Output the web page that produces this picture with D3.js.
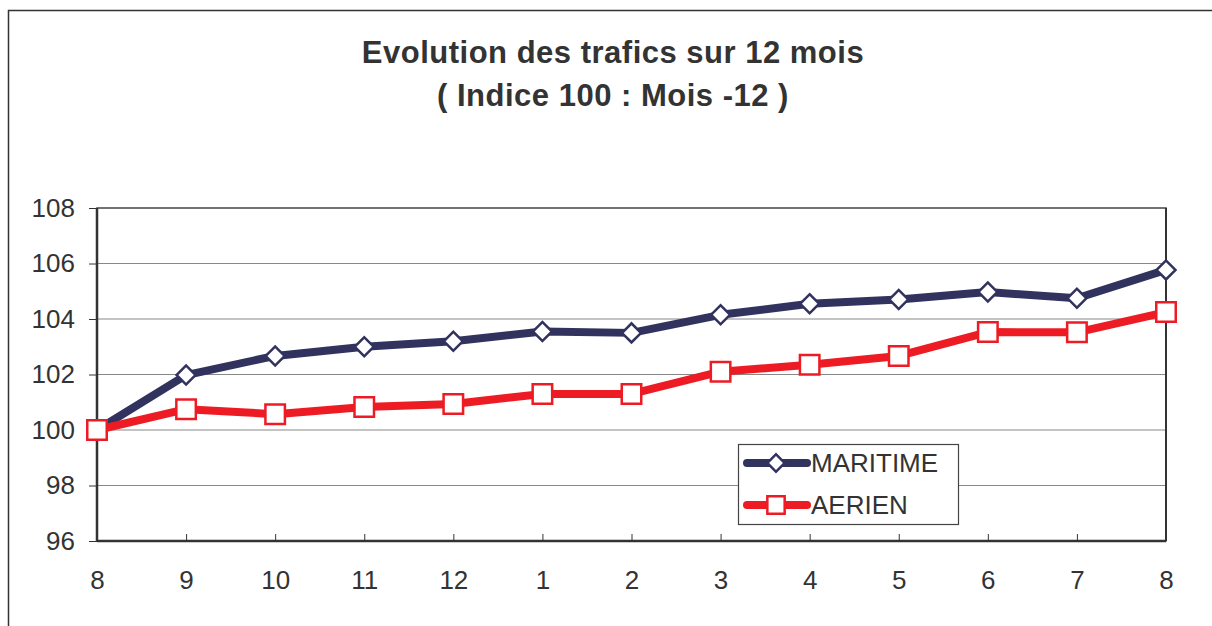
<!DOCTYPE html>
<html>
<head>
<meta charset="utf-8">
<script src="https://cdn.jsdelivr.net/npm/d3@7"></script>
<style>
  body { margin: 0; background: #fff; }
  svg { display: block; font-family: "Liberation Sans", Arial, sans-serif; }
</style>
</head>
<body>
<svg width="1212" height="626"></svg>
<script>
// months on the x axis
var months = ["8", "9", "10", "11", "12", "1", "2", "3", "4", "5", "6", "7", "8"];
// index values (100 = month -12)
var maritime = [100.0, 101.98, 102.67, 103.0, 103.2, 103.55, 103.5, 104.15, 104.55, 104.7, 104.97, 104.75, 105.77];
var aerien = [100.0, 100.75, 100.57, 100.83, 100.94, 101.3, 101.3, 102.1, 102.35, 102.67, 103.53, 103.52, 104.25];
var yTicks = [96, 98, 100, 102, 104, 106, 108];

var svg = d3.select("svg");
var plotLeft = 97, plotRight = 1166, plotTop = 208, plotBottom = 541;

// outer frame of the chart area (cut by the picture on right and bottom)
svg.append("path")
    .attr("d", "M8.5,640 L8.5,10.5 L1230,10.5")
    .attr("fill", "none")
    .attr("stroke", "#333")
    .attr("stroke-width", 1.5);

// title
svg.append("text")
    .attr("x", 613).attr("y", 63)
    .attr("text-anchor", "middle")
    .attr("font-size", 31).attr("font-weight", "bold")
    .attr("letter-spacing", 0.5)
    .attr("fill", "#333")
    .text("Evolution des trafics sur 12 mois");
svg.append("text")
    .attr("x", 613).attr("y", 106)
    .attr("text-anchor", "middle")
    .attr("font-size", 31).attr("font-weight", "bold")
    .attr("letter-spacing", 0.5)
    .attr("fill", "#333")
    .text("( Indice 100 : Mois -12 )");

var x = d3.scalePoint().domain(d3.range(months.length)).range([plotLeft, plotRight]);
var y = d3.scaleLinear().domain([96, 108]).range([plotBottom, plotTop]);

// gridlines
svg.append("g")
  .selectAll("line")
  .data(yTicks.slice(1, -1))
  .enter().append("line")
    .attr("x1", plotLeft).attr("x2", plotRight)
    .attr("y1", function(d) { return y(d); })
    .attr("y2", function(d) { return y(d); })
    .attr("stroke", "#888")
    .attr("stroke-width", 1.2);

// plot frame
svg.append("rect")
    .attr("x", plotLeft).attr("y", plotTop)
    .attr("width", plotRight - plotLeft).attr("height", plotBottom - plotTop)
    .attr("fill", "none")
    .attr("stroke", "#444")
    .attr("stroke-width", 1.5);
svg.append("line")
    .attr("x1", plotLeft).attr("x2", plotLeft).attr("y1", plotTop).attr("y2", plotBottom)
    .attr("stroke", "#333").attr("stroke-width", 2.5);
svg.append("line")
    .attr("x1", plotLeft).attr("x2", plotRight).attr("y1", plotBottom).attr("y2", plotBottom)
    .attr("stroke", "#333").attr("stroke-width", 2.5);
svg.append("line")
    .attr("x1", plotRight).attr("x2", plotRight).attr("y1", plotTop).attr("y2", plotBottom)
    .attr("stroke", "#333").attr("stroke-width", 2);

// y axis
var yAxis = svg.append("g")
    .attr("transform", "translate(" + plotLeft + ",0)")
    .call(d3.axisLeft(y).tickValues(yTicks).tickSize(8).tickPadding(14));
yAxis.select(".domain").remove();
yAxis.selectAll("line").attr("stroke", "#333");
yAxis.selectAll("text")
    .attr("font-size", 26).attr("fill", "#333")
    .attr("font-family", "Liberation Sans, Arial, sans-serif");

// x axis: ticks point up into the plot
var xAxis = svg.append("g")
    .attr("transform", "translate(0," + plotBottom + ")")
    .call(d3.axisBottom(x).tickSize(-7).tickPadding(0).tickFormat(function(i) { return months[i]; }));
xAxis.select(".domain").remove();
xAxis.selectAll("line").attr("stroke", "#333");
xAxis.selectAll("text")
    .attr("font-size", 26).attr("fill", "#333")
    .attr("dy", 0).attr("y", 48)
    .attr("font-family", "Liberation Sans, Arial, sans-serif");

var line = d3.line()
    .x(function(d, i) { return x(i); })
    .y(function(d) { return y(d); });

var navy = "#32325f", red = "#ed1c24";

// diamond = square turned by 45 degrees
function markerTransform(cx, cy, rot) {
  return "translate(" + cx + "," + cy + ")" + (rot ? " rotate(45)" : "");
}

function drawSeries(data, color, size, rot) {
  svg.append("path")
      .datum(data)
      .attr("d", line)
      .attr("fill", "none")
      .attr("stroke", color)
      .attr("stroke-width", 8)
      .attr("stroke-linejoin", "round");
  svg.append("g")
    .selectAll("path")
    .data(data)
    .enter().append("path")
      .attr("d", d3.symbol().type(d3.symbolSquare).size(size))
      .attr("transform", function(d, i) { return markerTransform(x(i), y(d), rot); })
      .attr("fill", "#fff")
      .attr("stroke", color)
      .attr("stroke-width", 2.5);
}

drawSeries(maritime, navy, 180, true);
drawSeries(aerien, red, 380, false);

// legend
var legend = svg.append("g").attr("transform", "translate(738,444)");
legend.append("rect")
    .attr("x", 0.5).attr("y", 0.5).attr("width", 220).attr("height", 80)
    .attr("fill", "#fff").attr("stroke", "#444").attr("stroke-width", 1.2);
var items = [
  {name: "MARITIME", color: navy, size: 150, rot: true},
  {name: "AERIEN", color: red, size: 300, rot: false}
];
items.forEach(function(it, i) {
  var cy = 19 + i * 42;
  legend.append("line")
      .attr("x1", 9).attr("x2", 69).attr("y1", cy).attr("y2", cy)
      .attr("stroke", it.color).attr("stroke-width", 8).attr("stroke-linecap", "round");
  legend.append("path")
      .attr("d", d3.symbol().type(d3.symbolSquare).size(it.size))
      .attr("transform", markerTransform(38, cy, it.rot))
      .attr("fill", "#fff").attr("stroke", it.color).attr("stroke-width", 2.5);
  legend.append("text")
      .attr("x", 73).attr("y", cy + 9)
      .attr("font-size", 26).attr("fill", "#333")
      .text(it.name);
});
</script>
</body>
</html>
